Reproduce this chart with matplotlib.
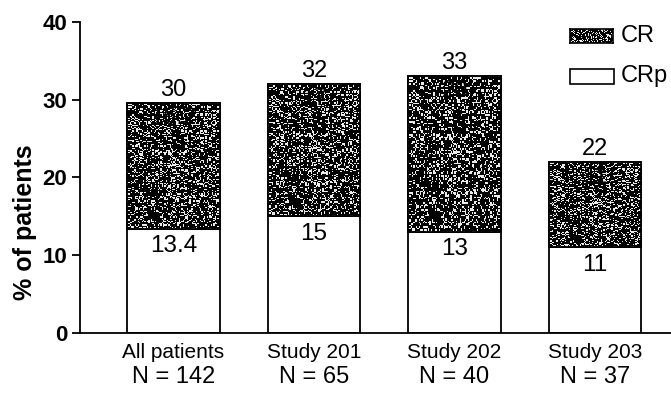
import matplotlib
matplotlib.use("Agg")
import matplotlib.pyplot as plt
import numpy as np
from matplotlib.patches import Rectangle

plt.rcParams["font.family"] = ["Liberation Sans", "DejaVu Sans"]

groups = ["All patients", "Study 201", "Study 202", "Study 203"]
n_labels = ["N = 142", "N = 65", "N = 40", "N = 37"]
crp = [13.4, 15, 13, 11]
cr = [16.2, 17, 20, 11]
crp_text = ["13.4", "15", "13", "11"]
cr_text = ["16.2", "17", "20", "11"]
totals = ["30", "32", "33", "22"]

# stipple texture for the CR segments (styling only)
rng = np.random.default_rng(3)
noise = (rng.random((110, 70)) > 0.74).astype(float) * 0.92

fig = plt.figure(figsize=(6.71, 3.93), dpi=100)
ax = fig.add_axes([0.119, 0.153, 0.881, 0.791])

x = np.arange(len(groups))
w = 0.66
ax.bar(x, crp, w, color="white", edgecolor="black", lw=1.3, zorder=2)
top_bars = ax.bar(x, cr, w, bottom=crp, color="#1a1a1a", edgecolor="black",
                  lw=1.3, zorder=2)
for b in top_bars:
    x0, y0 = b.get_x(), b.get_y()
    im = ax.imshow(noise, cmap="gray", vmin=0, vmax=1, aspect="auto",
                   extent=[x0, x0 + b.get_width(), y0, y0 + b.get_height()],
                   interpolation="nearest", zorder=3)
    im.set_clip_path(b)
    ax.add_patch(Rectangle((x0, y0), b.get_width(), b.get_height(),
                           fill=False, edgecolor="black", lw=1.3, zorder=4))

for i in range(len(groups)):
    ax.text(x[i], crp[i] - 0.8, crp_text[i], ha="center", va="top",
            fontsize=17.5, zorder=5)
    ax.text(x[i], crp[i] + cr[i] - 0.5, cr_text[i], ha="center", va="top",
            fontsize=17, color="black", zorder=5)
    ax.text(x[i], crp[i] + cr[i] + 0.3, totals[i], ha="center", va="bottom",
            fontsize=17, zorder=5)

ax.set_xlim(-0.666, 3.54)
ax.set_ylim(0, 40)
ax.set_yticks([0, 10, 20, 30, 40])
ax.tick_params(axis="y", labelsize=16, length=6, width=1.3, pad=3)
for t in ax.get_yticklabels():
    t.set_fontweight("bold")
ax.set_xticks(x)
ax.set_xticklabels(groups, fontsize=15)
ax.tick_params(axis="x", length=0, pad=7)
for i in range(len(groups)):
    ax.text(x[i], -0.106, n_labels[i], transform=ax.get_xaxis_transform(),
            ha="center", va="top", fontsize=17)

ax.text(-0.092, 0.357, "% of patients", transform=ax.transAxes, rotation=90,
        ha="center", va="center", fontsize=18, fontweight="bold")
ax.spines["top"].set_visible(False)
ax.spines["right"].set_visible(False)
ax.spines["left"].set_linewidth(1.3)
ax.spines["bottom"].set_linewidth(1.3)

# legend, drawn by hand in figure coordinates
leg_cr = fig.add_axes([0.8495, 0.8906, 0.064, 0.0356])
leg_cr.imshow(noise[:20, :60], cmap="gray", vmin=0, vmax=1, aspect="auto",
              interpolation="nearest")
leg_cr.set_xticks([])
leg_cr.set_yticks([])
for s in leg_cr.spines.values():
    s.set_linewidth(1.2)
fig.add_artist(Rectangle((0.8495, 0.7863), 0.066, 0.038, facecolor="white",
                         edgecolor="black", lw=1.2,
                         transform=fig.transFigure))
fig.text(0.9255, 0.908, "CR", ha="left", va="center", fontsize=17)
fig.text(0.9255, 0.807, "CRp", ha="left", va="center", fontsize=17)

fig.savefig("out.png", dpi=100)
